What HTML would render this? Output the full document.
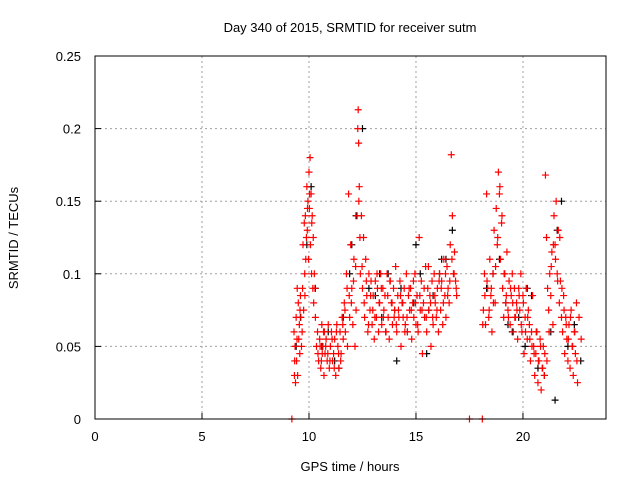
<!DOCTYPE html>
<html><head><meta charset="utf-8"><style>
body{margin:0;background:#fff}
svg{display:block;font-family:"Liberation Sans",sans-serif}
</style></head><body>
<svg id="chart" width="640" height="480" viewBox="0 0 640 480">
<rect width="640" height="480" fill="#fff"/>
<text x="350" y="32" font-size="13" text-anchor="middle">Day 340 of 2015, SRMTID for receiver sutm</text>
<g id="grid"></g>
<g id="axes"></g>
<g id="black"></g>
<g id="red"></g>
<rect x="95" y="56" width="511" height="363" fill="none" stroke="#000" stroke-width="1"/>
<text x="350" y="471" font-size="13" text-anchor="middle">GPS time / hours</text>
<text transform="translate(18,238) rotate(-90)" font-size="13" text-anchor="middle">SRMTID / TECUs</text>
</svg>
<script>
const xTicks=[0,5,10,15,20];
const yTicks=[0,0.05,0.1,0.15,0.2,0.25];
const yTickLabels=["0","0.05","0.1","0.15","0.2","0.25"];
const redT=[9.2,9.3,9.32,9.35,9.37,9.4,9.42,9.45,9.47,9.5,9.52,9.55,9.57,9.6,9.62,9.65,9.7,9.72,9.75,9.78,9.8,9.83,9.85,9.88,9.9,9.92,9.95,9.98,10.0,10.02,10.05,10.07,10.1,10.12,10.15,10.18,10.2,10.22,10.25,10.3,10.35,10.4,10.45,10.5,10.55,10.6,10.62,10.65,10.7,10.72,10.75,10.8,10.85,10.9,10.95,11.0,11.05,11.1,11.15,11.2,11.25,11.3,11.35,11.4,11.45,11.5,11.55,11.6,11.65,11.7,11.75,11.8,11.85,11.9,11.95,12.0,12.05,12.1,12.15,12.2,12.25,12.28,12.3,12.32,12.35,12.38,12.4,12.45,12.5,12.55,12.6,12.65,12.7,12.75,12.8,12.85,12.9,12.95,13.0,13.05,13.1,13.15,13.2,13.25,13.3,13.35,13.4,13.45,13.5,13.55,13.6,13.65,13.7,13.75,13.8,13.85,13.9,13.95,14.0,14.05,14.1,14.15,14.2,14.25,14.3,14.35,14.4,14.45,14.5,14.55,14.6,14.65,14.7,14.75,14.8,14.85,14.9,14.95,15.0,15.05,15.1,15.15,15.2,15.25,15.3,15.35,15.4,15.45,15.5,15.55,15.6,15.65,15.7,15.75,15.8,15.85,15.9,15.95,16.0,16.05,16.1,16.15,16.2,16.25,16.3,16.35,16.4,16.45,16.5,16.55,16.6,16.65,16.7,16.75,16.8,16.85,16.9,17.5,18.1,18.15,18.2,18.25,18.3,18.35,18.4,18.45,18.5,18.55,18.6,18.65,18.7,18.75,18.8,18.85,18.9,18.95,19.0,19.05,19.1,19.15,19.2,19.25,19.3,19.35,19.4,19.45,19.5,19.55,19.6,19.65,19.7,19.75,19.8,19.85,19.9,19.95,20.0,20.05,20.1,20.15,20.2,20.25,20.3,20.35,20.4,20.45,20.5,20.55,20.6,20.65,20.7,20.75,20.8,20.85,20.9,20.95,21.0,21.05,21.1,21.15,21.2,21.25,21.3,21.35,21.4,21.45,21.5,21.55,21.6,21.65,21.7,21.75,21.8,21.85,21.9,21.95,22.0,22.05,22.1,22.15,22.2,22.25,22.3,22.35,22.4,22.45,22.5,22.55,22.6,22.65,22.7,22.75];
const redV=[0,0.06,0.03,0.05,0.025,0.07,0.04,0.09,0.03,0.08,0.055,0.065,0.045,0.085,0.07,0.05,0.09,0.12,0.075,0.135,0.1,0.14,0.11,0.125,0.16,0.13,0.15,0.11,0.17,0.145,0.18,0.12,0.155,0.1,0.14,0.09,0.125,0.08,0.1,0.07,0.05,0.06,0.04,0.055,0.035,0.065,0.045,0.05,0.03,0.06,0.045,0.055,0.04,0.065,0.035,0.05,0.06,0.04,0.045,0.055,0.03,0.065,0.05,0.035,0.06,0.045,0.07,0.055,0.08,0.06,0.1,0.05,0.155,0.07,0.12,0.09,0.065,0.11,0.05,0.075,0.14,0.2,0.213,0.19,0.16,0.125,0.1,0.14,0.09,0.125,0.07,0.11,0.085,0.06,0.1,0.075,0.095,0.065,0.085,0.055,0.095,0.07,0.09,0.06,0.08,0.1,0.065,0.09,0.075,0.085,0.06,0.1,0.07,0.055,0.095,0.08,0.065,0.09,0.075,0.105,0.06,0.085,0.07,0.095,0.05,0.08,0.07,0.09,0.065,0.1,0.06,0.085,0.075,0.09,0.055,0.08,0.07,0.1,0.065,0.085,0.06,0.125,0.075,0.095,0.045,0.08,0.07,0.105,0.06,0.09,0.075,0.085,0.05,0.095,0.065,0.1,0.08,0.07,0.09,0.06,0.1,0.075,0.095,0.065,0.11,0.085,0.07,0.105,0.09,0.08,0.12,0.182,0.14,0.1,0.115,0.095,0.085,0,0,0.075,0.1,0.065,0.155,0.09,0.07,0.11,0.085,0.06,0.1,0.13,0.08,0.145,0.12,0.17,0.155,0.11,0.135,0.09,0.07,0.1,0.08,0.115,0.075,0.095,0.065,0.085,0.1,0.06,0.09,0.07,0.08,0.055,0.09,0.075,0.1,0.06,0.085,0.045,0.07,0.09,0.055,0.075,0.065,0.04,0.06,0.085,0.05,0.03,0.045,0.06,0.025,0.04,0.055,0.02,0.035,0.05,0.03,0.168,0.125,0.09,0.075,0.1,0.085,0.115,0.065,0.14,0.12,0.15,0.1,0.13,0.08,0.095,0.07,0.06,0.085,0.045,0.07,0.055,0.04,0.065,0.035,0.075,0.05,0.03,0.06,0.045,0.08,0.025];
const redT2=[9.33,9.44,9.58,9.68,9.81,9.93,10.03,10.13,10.28,10.42,10.52,10.58,10.68,10.78,10.88,10.98,11.08,11.18,11.28,11.38,11.48,11.58,11.68,11.78,11.88,11.98,12.08,12.18,12.33,12.48,12.58,12.68,12.78,12.88,12.98,13.08,13.18,13.28,13.38,13.48,13.58,13.68,13.78,13.88,13.98,14.08,14.18,14.28,14.38,14.48,14.58,14.68,14.78,14.88,14.98,15.08,15.18,15.28,15.38,15.48,15.58,15.68,15.78,15.88,15.98,16.08,16.18,16.28,16.38,16.48,16.58,16.68,16.78,16.88,18.12,18.22,18.32,18.42,18.52,18.62,18.72,18.82,18.92,19.02,19.12,19.22,19.32,19.42,19.52,19.62,19.72,19.82,19.92,20.02,20.12,20.22,20.32,20.42,20.52,20.62,20.72,20.82,20.92,21.02,21.12,21.22,21.32,21.42,21.52,21.62,21.72,21.82,21.92,22.02,22.12,22.22,22.32,22.42,22.52,22.62,22.72];
const redV2=[0.04,0.055,0.075,0.06,0.085,0.145,0.155,0.135,0.09,0.045,0.05,0.04,0.06,0.05,0.045,0.04,0.055,0.035,0.06,0.045,0.04,0.065,0.075,0.09,0.085,0.08,0.095,0.105,0.15,0.105,0.08,0.095,0.065,0.085,0.075,0.07,0.1,0.08,0.09,0.07,0.06,0.085,0.095,0.08,0.07,0.065,0.075,0.085,0.08,0.06,0.07,0.09,0.075,0.095,0.08,0.065,0.085,0.075,0.09,0.07,0.105,0.08,0.07,0.085,0.075,0.095,0.09,0.08,0.1,0.085,0.095,0.11,0.1,0.09,0.065,0.085,0.095,0.075,0.09,0.08,0.105,0.125,0.16,0.14,0.1,0.085,0.07,0.09,0.08,0.07,0.075,0.085,0.065,0.08,0.06,0.07,0.055,0.05,0.045,0.06,0.04,0.05,0.035,0.045,0.04,0.06,0.105,0.12,0.11,0.095,0.125,0.09,0.075,0.065,0.055,0.07,0.05,0.06,0.04,0.07,0.055];
const blackT=[9.4,9.6,9.9,10.1,10.3,10.6,10.9,11.2,11.6,11.9,12.2,12.5,12.8,13.1,13.4,13.7,14.0,14.3,14.6,14.9,15.2,15.5,15.8,16.1,16.4,16.7,18.3,18.6,18.9,19.2,19.5,19.8,20.1,20.4,20.7,21.0,21.3,21.5,21.8,22.1,22.4,22.7,11.4,12.0,13.3,14.1,15.0,15.6,16.2,19.3,20.2,21.6];
const blackV=[0.05,0.07,0.12,0.16,0.09,0.05,0.06,0.04,0.07,0.1,0.14,0.2,0.09,0.085,0.07,0.1,0.075,0.09,0.06,0.08,0.1,0.045,0.085,0.1,0.11,0.13,0.09,0.1,0.11,0.08,0.06,0.07,0.05,0.085,0.035,0.03,0.06,0.013,0.15,0.05,0.065,0.04,0.035,0.12,0.1,0.04,0.12,0.075,0.11,0.065,0.09,0.13];
const X=t=>95+t*(511/23.88), Y=v=>419-v*1452;
const NS="http://www.w3.org/2000/svg";
const grid=document.getElementById('grid'), axes=document.getElementById('axes');
function mk(tag,at,parent){const e=document.createElementNS(NS,tag);for(const k in at)e.setAttribute(k,at[k]);parent.appendChild(e);return e;}
xTicks.forEach(t=>{const x=X(t);
 if(t>0){const g=mk('line',{x1:x,x2:x,y1:56,y2:419,stroke:'#a0a0a0','stroke-dasharray':'2,3'},grid);
 
 }
 const tk=mk('line',{x1:x,x2:x,y1:419,y2:413,stroke:'#000'},axes);
 
 
 const l=mk('text',{x:x,y:441,'font-size':'13','text-anchor':'middle'},axes);l.textContent=t;
 
 });
yTicks.forEach((v,i)=>{const y=Y(v);
 if(v>0&&v<0.25){const g=mk('line',{x1:95,x2:606,y1:y,y2:y,stroke:'#a0a0a0','stroke-dasharray':'2,3'},grid);
 
 }
 const tk=mk('line',{x1:95,x2:101,y1:y,y2:y,stroke:'#000'},axes);
 
 
 const l=mk('text',{x:81,y:y+5,'font-size':'13','text-anchor':'end'},axes);l.textContent=yTickLabels[i];
 
 });
function plot(T,V,col,g){T.forEach((t,i)=>{const x=X(t),y=Y(V[i]);
 const p=mk('path',{d:`M${x-3.5},${y}h7M${x},${y-3.5}v7`,stroke:col,'stroke-width':'1.2',fill:'none'},g);
 
 });}
plot(blackT,blackV,'#000',document.getElementById('black'));
plot(redT,redV,'#f00',document.getElementById('red'));
plot(redT2,redV2,'#f00',document.getElementById('red'));
</script>
</body></html>
